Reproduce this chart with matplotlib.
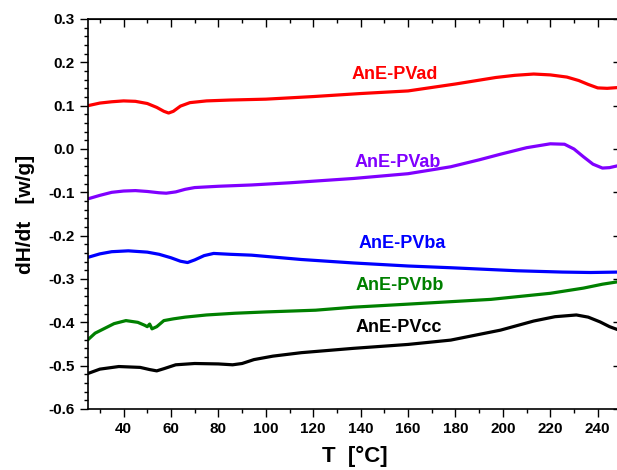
import matplotlib
matplotlib.use("Agg")
import matplotlib.pyplot as plt
from matplotlib.ticker import MultipleLocator

plt.rcParams['font.family'] = ['Liberation Sans', 'DejaVu Sans']
plt.rcParams['font.weight'] = 'bold'

# ---- data ----
t_ad = [25, 30, 35, 40, 45, 50, 54, 57, 59, 61, 64, 68, 75, 85, 100, 120, 140, 160, 180, 197, 205, 213, 220, 227, 232, 236, 240, 244, 249]
v_ad = [0.100, 0.106, 0.109, 0.111, 0.110, 0.105, 0.096, 0.087, 0.083, 0.087, 0.099, 0.107, 0.111, 0.113, 0.115, 0.121, 0.128, 0.134, 0.150, 0.165, 0.170, 0.173, 0.171, 0.166, 0.158, 0.149, 0.141, 0.140, 0.142]

t_ab = [25, 30, 35, 40, 45, 50, 55, 58, 62, 66, 70, 80, 94, 110, 137, 160, 178, 190, 199, 210, 220, 226, 230, 234, 238, 242, 245, 249]
v_ab = [-0.115, -0.107, -0.100, -0.097, -0.096, -0.098, -0.101, -0.102, -0.099, -0.093, -0.089, -0.086, -0.083, -0.078, -0.068, -0.057, -0.041, -0.025, -0.012, 0.003, 0.012, 0.011, 0.000, -0.018, -0.035, -0.044, -0.043, -0.038]

t_ba = [25, 30, 35, 42, 50, 55, 60, 64, 67, 70, 74, 78, 85, 94, 115, 137, 160, 178, 206, 225, 237, 249]
v_ba = [-0.250, -0.242, -0.237, -0.235, -0.238, -0.243, -0.251, -0.259, -0.262, -0.256, -0.246, -0.241, -0.243, -0.245, -0.255, -0.263, -0.270, -0.274, -0.281, -0.284, -0.285, -0.284]

t_bb = [25, 28, 32, 36, 41, 46, 49, 50, 51, 52, 54, 57, 61, 66, 75, 87, 100, 121, 137, 160, 195, 220, 234, 242, 249]
v_bb = [-0.440, -0.425, -0.414, -0.403, -0.396, -0.400, -0.407, -0.410, -0.404, -0.415, -0.410, -0.396, -0.392, -0.388, -0.383, -0.379, -0.376, -0.372, -0.365, -0.358, -0.347, -0.333, -0.321, -0.312, -0.306]

t_cc = [25, 30, 38, 47, 51, 54, 57, 62, 70, 80, 86, 90, 95, 103, 115, 137, 160, 178, 199, 213, 222, 231, 236, 241, 245, 249]
v_cc = [-0.518, -0.508, -0.502, -0.504, -0.509, -0.512, -0.507, -0.498, -0.495, -0.496, -0.498, -0.495, -0.486, -0.478, -0.470, -0.460, -0.451, -0.441, -0.418, -0.397, -0.387, -0.383, -0.388, -0.399, -0.410, -0.418]

names = ["AnE-PVad", "AnE-PVab", "AnE-PVba", "AnE-PVbb", "AnE-PVcc"]
colors = ["#FF0000", "#8000FF", "#0000FF", "#008000", "#000000"]
label_x = [136, 137.6, 139, 138, 138]
label_y = [0.171, -0.032, -0.219, -0.314, -0.413]

xticks = [40, 60, 80, 100, 120, 140, 160, 180, 200, 220, 240]
yticks = [0.3, 0.2, 0.1, 0.0, -0.1, -0.2, -0.3, -0.4, -0.5, -0.6]

W, H = 617, 470
fig = plt.figure(figsize=(W / 100, H / 100), dpi=100)
left, right, top, bottom = 88, 621.4, 19, 409
ax = fig.add_axes([left / W, (H - bottom) / H, (right - left) / W, (bottom - top) / H])

series = [(t_ad, v_ad), (t_ab, v_ab), (t_ba, v_ba), (t_bb, v_bb), (t_cc, v_cc)]
for (t, v), c in zip(series, colors):
    ax.plot(t, v, color=c, lw=2.3, solid_capstyle='round', solid_joinstyle='round')

for n, c, x, y in zip(names, colors, label_x, label_y):
    ax.text(x, y, n, color=c, fontsize=13, fontweight='bold', ha='left', va='center')

ax.set_xlim(25, 250)
ax.set_ylim(-0.6, 0.3)
ax.set_xticks(xticks)
ax.set_yticks(yticks)
ax.set_yticklabels([f"{v:.1f}" for v in yticks])
ax.xaxis.set_minor_locator(MultipleLocator(10))
ax.yaxis.set_minor_locator(MultipleLocator(0.02))
ax.tick_params(which='major', direction='out', length=5.5, width=1.0, labelsize=11, pad=4)
ax.tick_params(which='minor', direction='out', length=2.8, width=1.0)
for lab in ax.get_xticklabels() + ax.get_yticklabels():
    lab.set_fontweight('bold')
for s in ax.spines.values():
    s.set_linewidth(1.2)

# mirrored ticks pointing inward on top and right
sx = ax.secondary_xaxis('top')
sx.set_xticks(xticks)
sx.xaxis.set_minor_locator(MultipleLocator(10))
sx.tick_params(which='major', direction='in', length=5.5, width=1.0, labeltop=False)
sx.tick_params(which='minor', direction='in', length=2.8, width=1.0)
sy = ax.secondary_yaxis('right')
sy.set_yticks(yticks)
sy.tick_params(which='major', direction='in', length=5.5, width=1.0, labelright=False)

ax.set_xlabel("T  [°C]", fontsize=16, fontweight='bold', labelpad=7)
ax.set_ylabel("dH/dt   [w/g]", fontsize=15, fontweight='bold', labelpad=10)

fig.savefig("out.png", dpi=100)
